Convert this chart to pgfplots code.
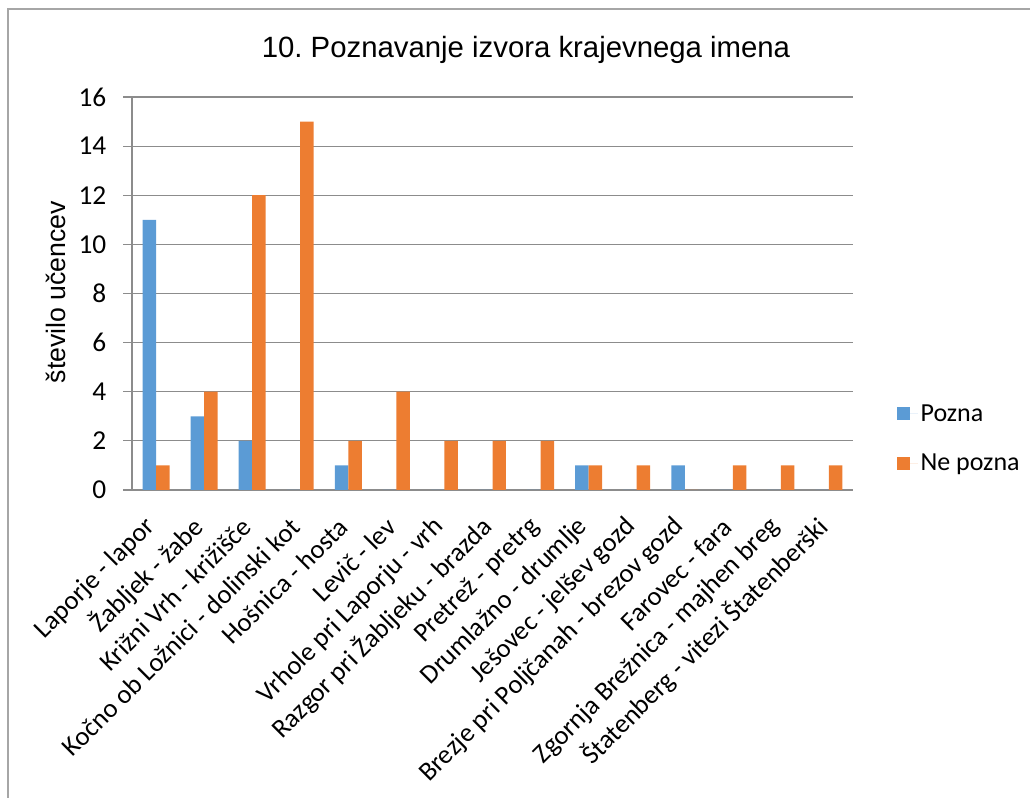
\documentclass[border=0pt]{standalone}
\usepackage{pgfplots}
\pgfplotsset{compat=1.18}
\usepackage{fontspec}
\setmainfont{Carlito}
\newfontfamily\arial{Liberation Sans}
\frenchspacing
\definecolor{cblue}{HTML}{5B9BD5}
\definecolor{corange}{HTML}{ED7D31}
\definecolor{cgrid}{HTML}{8C8C8C}
\definecolor{cframe}{HTML}{A6A6A6}
\begin{document}
\begin{tikzpicture}
\useasboundingbox (0pt,0pt) rectangle (772.5pt,598.5pt);
\draw[color=cframe, line width=1.1pt] (6pt,-9pt)--(6pt,591.75pt)--(784pt,591.75pt);
\node[font=\arial\fontsize{22}{26}\selectfont] at (394.5pt,561pt) {10. Poznavanje izvora krajevnega imena};
\node[font=\arial\fontsize{20}{24}\selectfont, rotate=90] at (42pt,379.5pt) {število učencev};
\begin{axis}[
  at={(99pt,231pt)}, anchor=south west,
  scale only axis, width=540.75pt, height=294.75pt,
  ybar=0pt, bar width=10.1pt,
  xmin=-0.5, xmax=14.5, ymin=0, ymax=16,
  enlargelimits=false,
  ytick={0,2,...,16},
  xtick={0,...,14},
  xticklabels={Laporje - lapor, Žabljek - žabe, Križni Vrh - križišče, Kočno ob Ložnici - dolinski kot, Hošnica - hosta, Levič - lev, Vrhole pri Laporju - vrh, Razgor pri Žabljeku - brazda, Pretrež - pretrg, Drumlažno - drumlje, Ješovec - jelšev gozd, Brezje pri Poljčanah - brezov gozd, Farovec - fara, Zgornja Brežnica - majhen breg, Štatenberg - vitezi Štatenberški},
  x tick label style={rotate=45, anchor=east, font=\fontsize{20}{24}\selectfont, inner sep=0pt, xshift=-15.2pt, yshift=-9.8pt},
  y tick label style={font=\fontsize{20.5}{24}\selectfont, xshift=-9pt},
  /pgf/number format/assume math mode=true,
  axis x line*=bottom, axis y line*=left,
  axis line style={cgrid, line width=0.8pt},
  ymajorgrids, grid style={cgrid, line width=0.8pt},
  tick align=outside, major tick length=6.75pt,
  ytick style={cgrid, line width=0.8pt},
  xtick style={draw=none},
  legend style={at={(1.061,0.225)}, anchor=north west, draw=none, fill=none,
    font=\fontsize{19.5}{23}\selectfont, row sep=19pt, inner sep=0pt},
  legend cell align=left,
  legend image code/.code={\fill[#1] (0pt,-4.9pt) rectangle (9.8pt,4.9pt); \path (0pt,0pt) -- (15.5pt,0pt);},
]
\addplot[fill=cblue, draw=none] coordinates {(0,11) (1,3) (2,2) (3,0) (4,1) (5,0) (6,0) (7,0) (8,0) (9,1) (10,0) (11,1) (12,0) (13,0) (14,0)};
\addplot[fill=corange, draw=none] coordinates {(0,1) (1,4) (2,12) (3,15) (4,2) (5,4) (6,2) (7,2) (8,2) (9,1) (10,1) (11,0) (12,1) (13,1) (14,1)};
\legend{Pozna, Ne pozna}
\end{axis}
\end{tikzpicture}
\end{document}
